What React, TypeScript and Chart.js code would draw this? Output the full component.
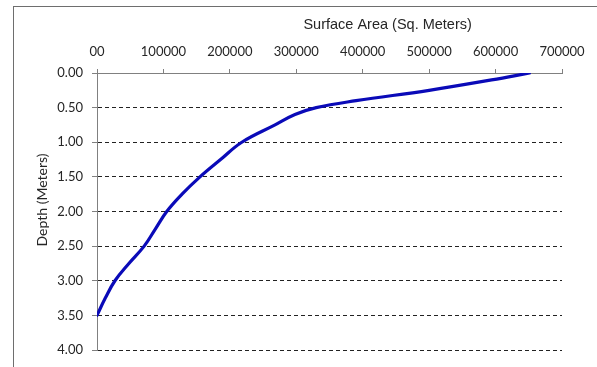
import React, { useEffect, useRef } from "react";
import { Chart, registerables } from "chart.js";

Chart.register(...registerables);

const depthMeters = [0, 0.1, 0.25, 0.4, 0.5, 0.6, 0.75, 1.0, 1.25, 1.5, 1.75, 2.0, 2.25, 2.5, 2.75, 3.0, 3.25, 3.5];
const surfaceArea = [651000, 594000, 500000, 390000, 330000, 298000, 268000, 218000, 186000, 155000, 128000, 105000, 88000, 71000, 48000, 27000, 12500, 0];
const xTickLabels = ["00", "100000", "200000", "300000", "400000", "500000", "600000", "700000"];
const yTickLabels = ["0.00", "0.50", "1.00", "1.50", "2.00", "2.50", "3.00", "3.50", "4.00"];
const xTitle = "Surface Area (Sq. Meters)";
const yTitle = "Depth (Meters)";

const TICK_FONT = "Lato, 'Open Sans', sans-serif";
const TITLE_FONT = "'Liberation Sans', Arial, sans-serif";
const TEXT = "#262626";

export default function App() {
  const ref = useRef<HTMLCanvasElement | null>(null);
  useEffect(() => {
    document.body.style.margin = "0";
    const canvas = ref.current!;
    const titles = {
      id: "axisTitles",
      afterDraw(chart: any) {
        const { ctx, chartArea } = chart;
        ctx.save();
        ctx.fillStyle = TEXT;
        ctx.textAlign = "center";
        ctx.textBaseline = "middle";
        const w = chartArea.right - chartArea.left;
        ctx.font = `14.5px ${TITLE_FONT}`;
        ctx.fillText(xTitle, chartArea.left + w * 0.625, chartArea.top - 48);
        ctx.font = `14px ${TICK_FONT}`;
        ctx.translate(chartArea.left - 55, chartArea.top + 127);
        ctx.rotate(-Math.PI / 2);
        ctx.fillText(yTitle, 0, 0);
        ctx.restore();
      },
    };
    const chart = new Chart(canvas, {
      type: "scatter",
      data: {
        datasets: [
          {
            data: depthMeters.map((d, i) => ({ x: surfaceArea[i], y: d })),
            showLine: true,
            borderColor: "#0a0ab8",
            backgroundColor: "#0a0ab8",
            borderWidth: 3.2,
            pointRadius: 0,
            tension: 0.4,
            borderCapStyle: "round",
            borderJoinStyle: "round",
          },
        ],
      },
      options: {
        animation: false,
        responsive: false,
        maintainAspectRatio: false,
        layout: { padding: { left: 0, top: 0, right: 35, bottom: 17 } },
        plugins: { legend: { display: false }, tooltip: { enabled: false } },
        scales: {
          x: {
            type: "linear",
            position: "top",
            min: 0,
            max: 700000,
            afterFit: (s: any) => { s.height = 73; },
            ticks: {
              stepSize: 100000,
              autoSkip: false,
              maxRotation: 0,
              padding: 9,
              color: TEXT,
              font: { family: TICK_FONT, size: 13 },
              callback: (v: any) => xTickLabels[Math.round(Number(v) / 100000)],
            },
            grid: { drawOnChartArea: false, drawTicks: true, tickLength: 4, tickColor: "#808080", color: "#808080" },
            border: { display: true, color: "#808080", width: 1 },
          },
          y: {
            type: "linear",
            reverse: true,
            min: 0,
            max: 4,
            afterFit: (s: any) => { s.width = 97; },
            ticks: {
              stepSize: 0.5,
              autoSkip: false,
              padding: 9,
              color: TEXT,
              font: { family: TICK_FONT, size: 13 },
              callback: (v: any) => yTickLabels[Math.round(Number(v) / 0.5)],
            },
            grid: {
              drawTicks: true,
              tickLength: 5,
              tickColor: "#808080",
              lineWidth: 1,
              color: (c: any) => (c.tick && c.tick.value === 0 ? "rgba(0,0,0,0)" : "#222222"),
            },
            border: { display: true, color: "#808080", width: 1, dash: [4, 3] },
          },
        },
      } as any,
      plugins: [titles],
    });
    return () => chart.destroy();
  }, []);
  return (
    <div style={{ position: "absolute", left: 0, top: 0, width: 597, height: 367, background: "#fff", overflow: "hidden" }}>
      <div style={{ position: "absolute", left: 13, top: 6, width: 700, height: 500, borderLeft: "1px solid #6e6e6e", borderTop: "1px solid #6e6e6e" }} />
      <canvas ref={ref} width={597} height={367} style={{ position: "absolute", left: 0, top: 0 }} />
    </div>
  );
}
